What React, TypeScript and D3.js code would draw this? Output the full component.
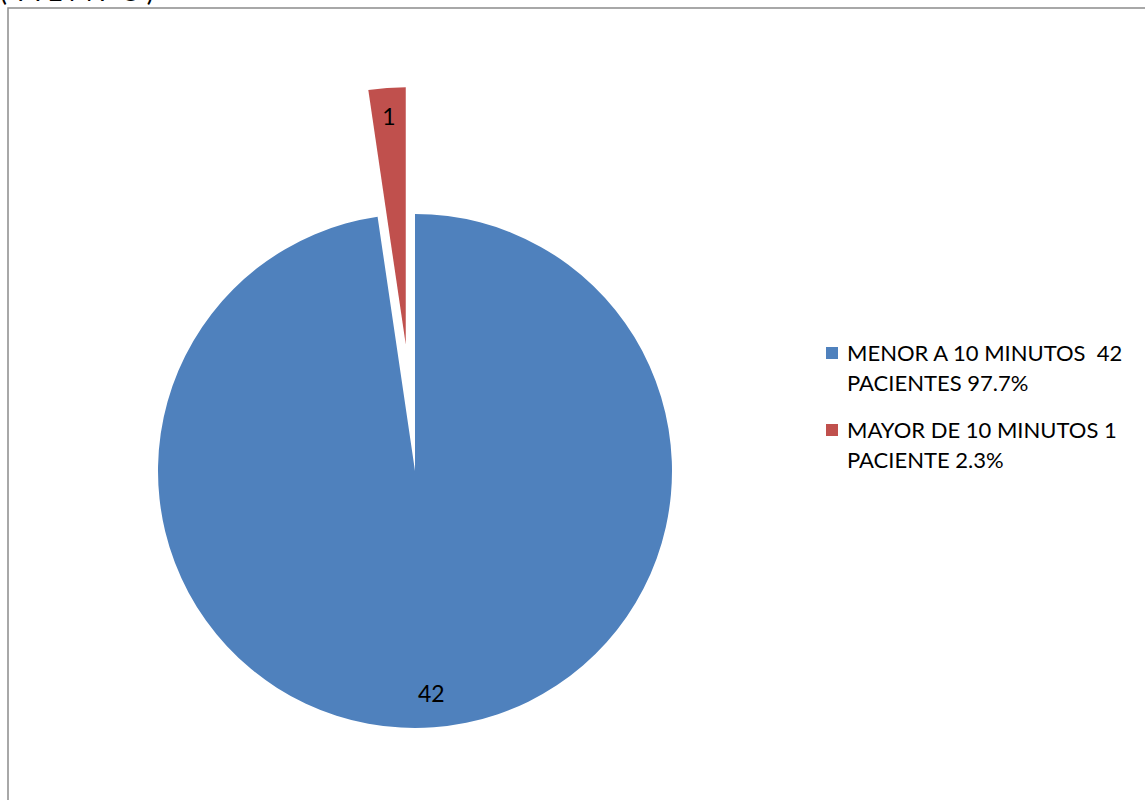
import React from "react";
import * as d3 from "d3";

const categories = ["MENOR A 10 MINUTOS  42 PACIENTES 97.7%", "MAYOR DE 10 MINUTOS 1 PACIENTE 2.3%"];
const legendLines = [
  ["MENOR A 10 MINUTOS  42", "PACIENTES 97.7%"],
  ["MAYOR DE 10 MINUTOS 1", "PACIENTE 2.3%"],
];
const values = [42, 1];
const labels = ["42", "1"];
const colors = ["#4F81BD", "#C0504D"];
const explode = [0, 127];

export default function App() {
  const W = 1145, H = 800;
  const cx = 415, cy = 471, r = 257;
  const pie = d3.pie<number>().sort(null).value((d) => d);
  const arcs = pie(values);
  const arc = d3.arc<d3.PieArcDatum<number>>().innerRadius(0).outerRadius(r);
  const font = "Lato, 'Open Sans', sans-serif";
  return (
    <svg width={W} height={H} style={{ position: "absolute", left: 0, top: 0 }} fontFamily={font}>
      <rect x={0} y={0} width={W} height={H} fill="#fff" />
      <text x={0} y={1} fontSize={26} fill="#000" letterSpacing={6}>(TIEMPO)</text>
      <rect x={8} y={8} width={W + 20} height={H + 20} fill="none" stroke="#8c8c8c" strokeWidth={1.5} />
      {arcs.map((a, i) => {
        const mid = (a.startAngle + a.endAngle) / 2;
        const dx = Math.sin(mid) * explode[i];
        const dy = -Math.cos(mid) * explode[i];
        const lr = i === 0 ? r * 0.865 : r * 0.89;
        const lx = Math.sin(mid) * lr;
        const ly = -Math.cos(mid) * lr;
        return (
          <g key={i} transform={`translate(${cx + dx},${cy + dy})`}>
            <path d={arc(a) || ""} fill={colors[i]} />
            <text x={lx} y={ly} textAnchor="middle" dominantBaseline="central" fontSize={23} fill="#000">
              {labels[i]}
            </text>
          </g>
        );
      })}
      {categories.map((c, i) => (
        <g key={c} transform={`translate(826,${347 + i * 77})`}>
          <rect x={0} y={0} width={12} height={12} fill={colors[i]} />
          <text x={21} y={14} fontSize={22} fill="#000" style={{ whiteSpace: "pre" }}>
            <tspan x={21} dy={0}>{legendLines[i][0]}</tspan>
            <tspan x={21} dy={30}>{legendLines[i][1]}</tspan>
          </text>
        </g>
      ))}
    </svg>
  );
}
